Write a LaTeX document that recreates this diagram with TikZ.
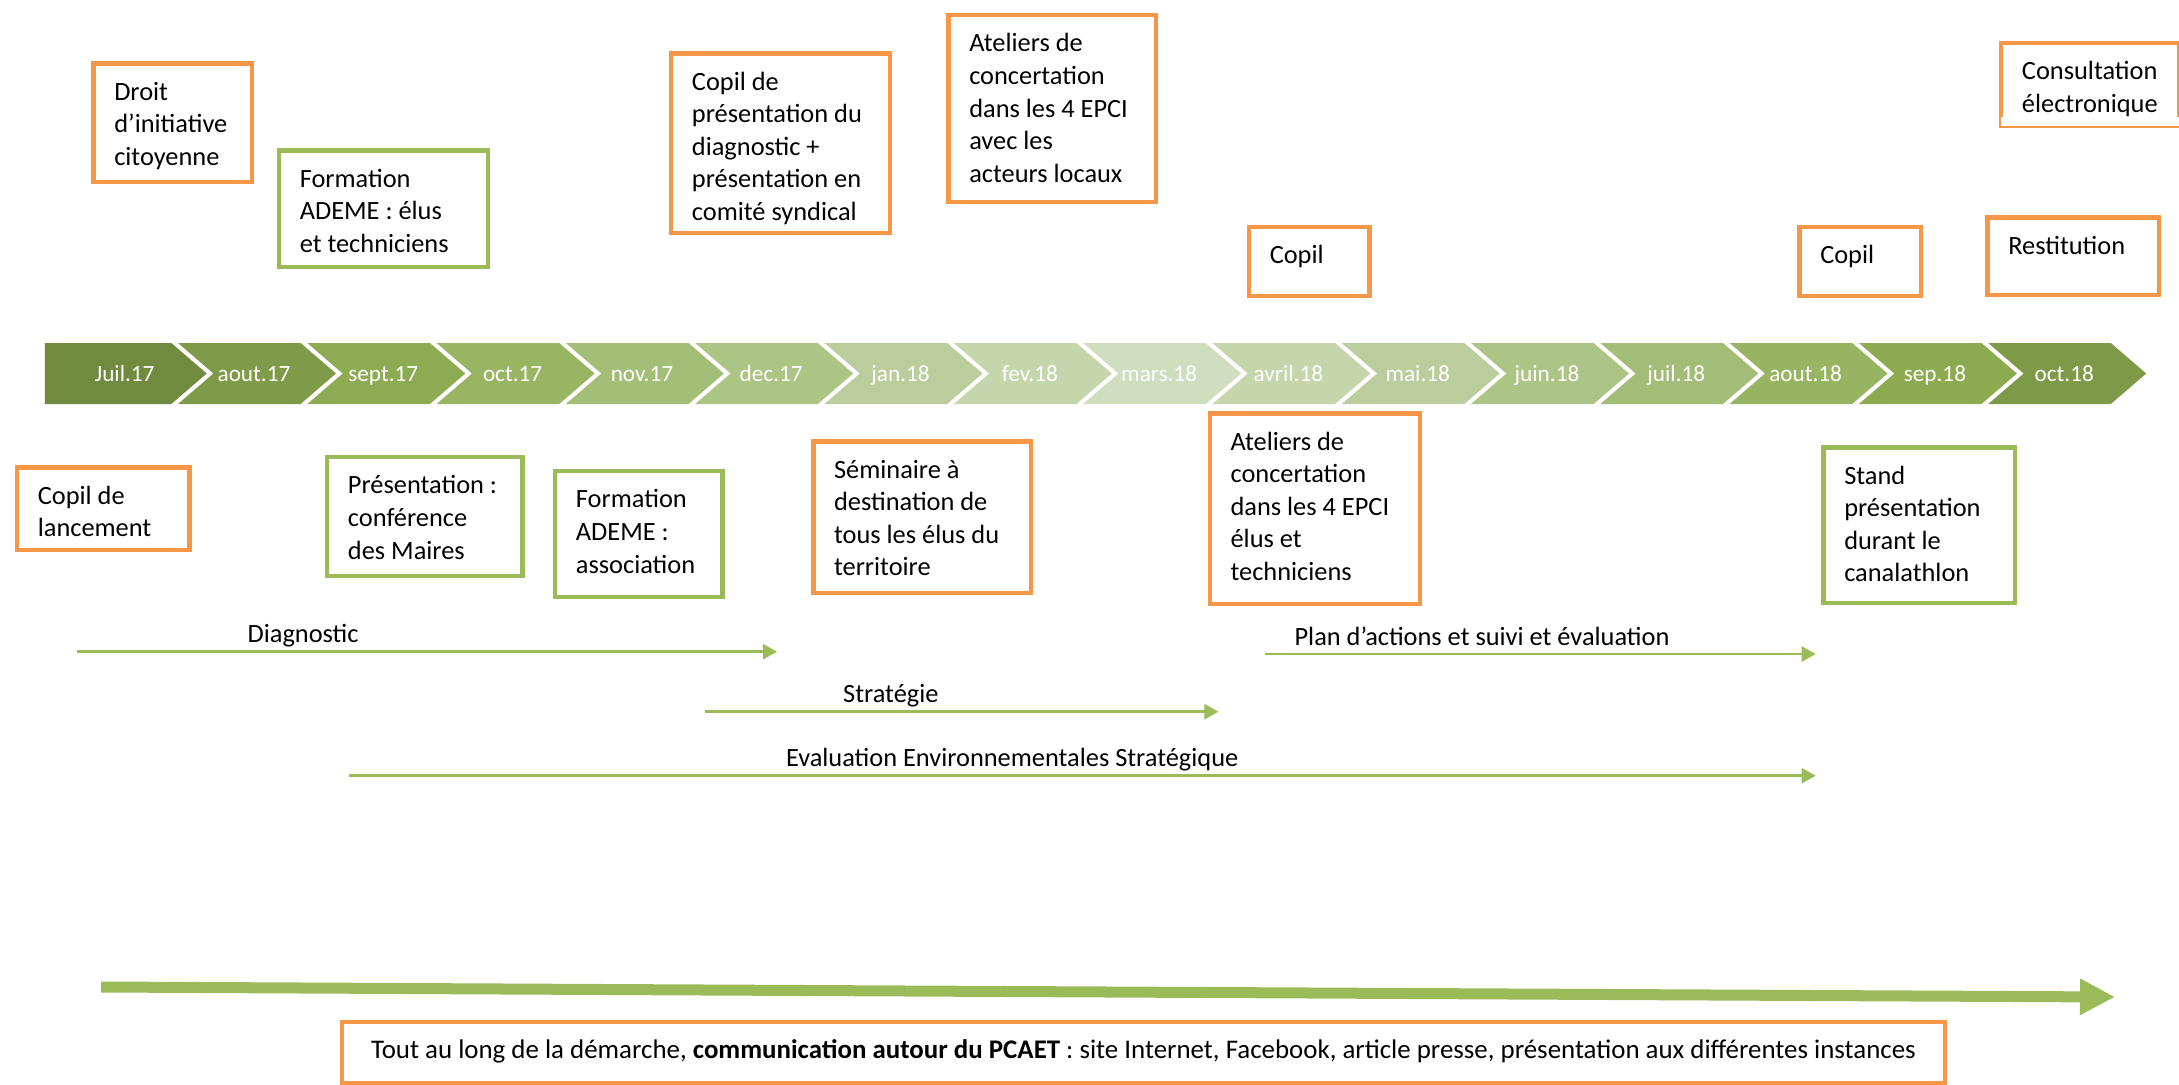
\documentclass[tikz,border=0pt]{standalone}
\usepackage{fontspec}
\setmainfont{Carlito}
\usetikzlibrary{arrows.meta,calc}

\definecolor{boxorange}{HTML}{F79646}
\definecolor{boxgreen}{HTML}{9BBB59}
\newcommand{\boxfont}{\fontsize{7.5}{9.25}\selectfont}
\newcommand{\commfont}{\fontsize{7.65}{9.25}\selectfont}
\newcommand{\monthfont}{\fontsize{6.6}{8}\selectfont}

\begin{document}
\begin{tikzpicture}[x=0.01cm,y=-0.01cm,
    box/.style={rectangle,draw,line width=0.045cm,anchor=north west,align=flush left,
      inner xsep=0.2075cm,inner ysep=0pt,text height=0.3675cm,font=\boxfont},
    orangebox/.style={box,draw=boxorange},
    greenbox/.style={box,draw=boxgreen},
    month/.style={text=white,font=\monthfont,anchor=base},
    phase/.style={draw=boxgreen,line width=0.7pt,-{Triangle[length=0.14cm,width=0.15cm]}},
    phaselabel/.style={font=\boxfont,anchor=base,yshift=0.09cm,inner sep=0pt},
    bigarrow/.style={draw=boxgreen,line width=0.11cm,-{Triangle[length=0.35cm,width=0.34cm]}}]
  \useasboundingbox (0,0) rectangle (2179,1085);

  % frise des mois
  \foreach \lbl/\hex [count=\k from 0] in {Juil.17/708A3F, aout.17/7F9B4A, sept.17/8DAB52,
      oct.17/98B564, nov.17/A3BE77, dec.17/ACC484, jan.18/BBCD9D, fev.18/C5D5AC,
      mars.18/D0DEBF, avril.18/C6D5AC, mai.18/BCCD9D, juin.18/ADC487, juil.18/A3BC78,
      aout.18/97B462, sep.18/8CAB50, oct.18/7E9948}{
    \definecolor{chev}{HTML}{\hex}
    \pgfmathsetmacro{\xl}{48.7+129.3*\k}
    \pgfmathsetmacro{\xs}{\k==0 ? 44.8 : \xl}
    \pgfmathsetmacro{\notch}{\k==0 ? 0 : 35.4}
    \fill[chev] (\xs,343) -- (\xl+122.6,343) -- (\xl+158,373.5) -- (\xl+122.6,404)
      -- (\xs,404) -- (\xs+\notch,373.5) -- cycle;
    \node[month] (m\k) at (\xl+76,381.5) {\lbl};
  }

  % au-dessus de la frise
  \node[orangebox,text width=1.17cm,text depth=0.8175cm] (droit) at (91.25,61.25)
    {Droit\\d’initiative\\citoyenne};
  \node[greenbox,text width=1.675cm,text depth=0.7975cm] (formelus) at (276.75,148.25)
    {Formation\\ADEME~: élus\\et techniciens};
  \node[orangebox,text width=1.77cm,text depth=1.4275cm] (copilpres) at (668.95,51.25)
    {Copil de\\présentation du\\diagnostic +\\présentation en\\comité syndical};
  \node[orangebox,text width=1.66cm,text depth=1.50cm] (atelierstop) at (946.25,12.95)
    {Ateliers de\\concertation\\dans les 4 EPCI\\avec les\\acteurs locaux};
  \node[orangebox,text width=0.79cm,text depth=0.32cm] (copilavril) at (1246.75,224.95) {Copil};
  \node[orangebox,text width=0.797cm,text depth=0.32cm] (copilaout) at (1797.25,224.95) {Copil};
  \node[orangebox,text width=1.30cm,text depth=0.4075cm] (restit) at (1985.25,215.25) {Restitution};
  \node[orangebox,text width=1.363cm,text depth=0.4645cm] (consult) at (1998.95,40.55)
    {Consultation\\électronique};
  \fill[white] ($(consult.south west)+(2.3,-2.3)$) rectangle ($(consult.south east)+(-2.3,-11.75)$);

  % en dessous de la frise
  \node[orangebox,text width=1.308cm,text depth=0.4575cm] (copillanc) at (14.85,465.25)
    {Copil de\\lancement};
  \node[greenbox,text width=1.539cm,text depth=0.82cm] (presmaires) at (324.95,454.95)
    {Présentation~:\\conférence\\des Maires};
  \node[greenbox,text width=1.259cm,text depth=0.89cm] (formasso) at (552.95,468.95)
    {Formation\\ADEME~:\\association};
  \node[orangebox,text width=1.762cm,text depth=1.1475cm] (seminaire) at (811.05,439.25)
    {Séminaire à\\destination de\\tous les élus du\\territoire};
  \node[orangebox,text width=1.687cm,text depth=1.5375cm] (ateliersavril) at (1207.55,411.25)
    {Ateliers de\\concertation\\dans les 4 EPCI\\élus et\\techniciens};
  \node[greenbox,text width=1.50cm,text depth=1.185cm] (stand) at (1821.25,445.25)
    {Stand\\présentation\\durant le\\canalathlon};

  % phases
  \coordinate (diagA) at (77,651.7);
  \coordinate (diagB) at (777,651.7);
  \coordinate (stratA) at (705,711.7);
  \coordinate (stratB) at (1218.4,711.7);
  \coordinate (planA) at (1265,654);
  \coordinate (planB) at (1815.7,654);
  \coordinate (evalA) at (349.4,775.7);
  \coordinate (evalB) at (1815.7,775.7);
  \draw[phase] (diagA) -- node[phaselabel,pos=0.323] (diaglbl) {Diagnostic} (diagB);
  \draw[phase] (stratA) -- node[phaselabel,pos=0.362] (stratlbl) {Stratégie} (stratB);
  \draw[phase] (planA) -- node[phaselabel,pos=0.394] (planlbl) {Plan d’actions et suivi et évaluation} (planB);
  \draw[phase] (evalA) -- node[phaselabel,pos=0.452] (evallbl) {Evaluation Environnementales Stratégique} (evalB);

  % communication
  \coordinate (commA) at (101,987);
  \coordinate (commB) at (2115,997);
  \draw[bigarrow] (commA) -- (commB);
  \node[draw=boxorange,line width=0.045cm,anchor=north,inner sep=0pt,minimum width=16.02cm,
    text height=0.3715cm,text depth=0.2435cm,font=\commfont] (comm) at (1143.35,1019.55)
    {Tout au long de la démarche, \textbf{communication autour du PCAET} : site Internet, Facebook, article presse, présentation aux différentes instances};
\end{tikzpicture}
\end{document}
